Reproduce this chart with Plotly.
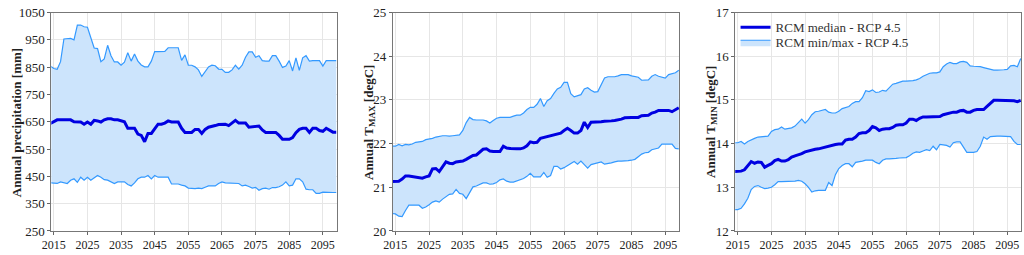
import plotly.graph_objects as go

years = list(range(2014, 2100))

precip_max = [854, 845, 842, 870, 953, 955, 955, 950, 1004, 1004, 998, 996, 960, 920, 918, 870, 880, 930, 892, 869,
              869, 857, 868, 903, 872, 898, 872, 858, 851, 851, 872, 907, 907, 907, 908, 921, 921, 921, 921, 875,
              895, 857, 857, 851, 840, 816, 834, 851, 857, 855, 843, 842, 831, 831, 840, 857, 843, 857, 886, 906,
              906, 886, 892, 874, 872, 872, 892, 892, 872, 849, 854, 874, 836, 884, 838, 884, 892, 872, 874, 874,
              874, 854, 874, 874, 874, 874]
precip_med = [644, 650, 657, 657, 657, 657, 657, 650, 649, 649, 641, 649, 641, 655, 653, 649, 657, 661, 661, 657,
              657, 653, 650, 626, 626, 626, 605, 600, 577, 607, 607, 626, 641, 641, 645, 653, 649, 649, 649, 626,
              611, 611, 611, 622, 622, 607, 622, 630, 632, 636, 640, 641, 641, 636, 645, 655, 645, 645, 645, 630,
              632, 634, 634, 620, 611, 611, 611, 611, 600, 586, 586, 586, 592, 610, 622, 626, 626, 611, 626, 626,
              618, 615, 626, 620, 612, 612]
precip_min = [426, 424, 424, 430, 428, 424, 436, 441, 428, 447, 436, 447, 436, 445, 453, 447, 438, 436, 430, 424,
              430, 430, 430, 420, 415, 426, 441, 447, 447, 453, 441, 453, 447, 447, 447, 447, 422, 422, 422, 418,
              415, 407, 405, 405, 407, 405, 410, 415, 415, 415, 424, 430, 426, 426, 424, 424, 424, 415, 418, 413,
              407, 410, 399, 405, 407, 403, 409, 409, 412, 418, 430, 415, 418, 441, 441, 430, 403, 401, 401, 388,
              388, 392, 391, 391, 391, 391]

tmax_max = [21.94, 21.94, 21.98, 21.95, 21.98, 21.97, 21.99, 22.03, 22.04, 22.05, 22.09, 22.10, 22.12, 22.15, 22.17,
            22.18, 22.18, 22.17, 22.18, 22.19, 22.20, 22.30, 22.48, 22.60, 22.55, 22.54, 22.54, 22.54, 22.52, 22.47,
            22.53, 22.58, 22.60, 22.60, 22.60, 22.60, 22.63, 22.65, 22.65, 22.70, 22.78, 22.83, 22.83, 22.90, 23.03,
            22.85, 22.98, 23.03, 23.15, 23.25, 23.29, 23.40, 23.40, 23.14, 23.07, 23.10, 23.12, 23.25, 23.28, 23.22,
            23.18, 23.19, 23.36, 23.50, 23.53, 23.53, 23.53, 23.55, 23.58, 23.58, 23.58, 23.55, 23.53, 23.52, 23.45,
            23.45, 23.46, 23.54, 23.58, 23.54, 23.52, 23.50, 23.58, 23.60, 23.62, 23.68]
tmax_med = [21.13, 21.13, 21.14, 21.19, 21.26, 21.26, 21.25, 21.24, 21.23, 21.21, 21.24, 21.26, 21.42, 21.43, 21.36,
            21.48, 21.58, 21.55, 21.54, 21.58, 21.59, 21.60, 21.64, 21.68, 21.73, 21.74, 21.80, 21.87, 21.88, 21.83,
            21.82, 21.82, 21.82, 21.94, 21.90, 21.89, 21.88, 21.88, 21.88, 21.90, 21.95, 22.04, 22.02, 22.03, 22.12,
            22.14, 22.17, 22.19, 22.20, 22.23, 22.24, 22.30, 22.35, 22.30, 22.24, 22.24, 22.30, 22.49, 22.37, 22.49,
            22.49, 22.49, 22.50, 22.51, 22.51, 22.52, 22.53, 22.54, 22.56, 22.59, 22.60, 22.60, 22.60, 22.60, 22.64,
            22.65, 22.65, 22.70, 22.72, 22.76, 22.76, 22.76, 22.76, 22.73, 22.77, 22.82]
tmax_min = [20.40, 20.39, 20.34, 20.33, 20.47, 20.59, 20.59, 20.59, 20.59, 20.52, 20.55, 20.60, 20.66, 20.69, 20.66,
            20.73, 20.78, 20.84, 20.85, 20.95, 20.86, 20.84, 20.74, 20.88, 21.01, 21.03, 21.06, 21.10, 21.10, 21.07,
            21.08, 21.11, 21.17, 21.19, 21.14, 21.12, 21.12, 21.15, 21.17, 21.20, 21.25, 21.32, 21.24, 21.24, 21.24,
            21.34, 21.23, 21.27, 21.48, 21.48, 21.42, 21.45, 21.50, 21.56, 21.59, 21.53, 21.60, 21.52, 21.44, 21.52,
            21.54, 21.55, 21.58, 21.53, 21.54, 21.56, 21.58, 21.60, 21.60, 21.60, 21.61, 21.62, 21.64, 21.70, 21.76,
            21.79, 21.80, 21.86, 21.88, 21.90, 21.99, 21.99, 21.99, 21.99, 21.89, 21.88]

tmin_max = [14.02, 14.02, 14.05, 13.99, 14.05, 14.09, 14.12, 14.15, 14.16, 14.16, 14.17, 14.28, 14.32, 14.33, 14.38,
            14.33, 14.34, 14.36, 14.40, 14.48, 14.56, 14.47, 14.55, 14.66, 14.73, 14.74, 14.76, 14.78, 14.72, 14.70,
            14.70, 14.74, 14.80, 14.82, 14.85, 14.92, 14.96, 14.96, 15.05, 15.21, 15.19, 15.23, 15.17, 15.18, 15.22,
            15.20, 15.27, 15.36, 15.38, 15.40, 15.43, 15.43, 15.43, 15.44, 15.46, 15.49, 15.54, 15.58, 15.61, 15.62,
            15.62, 15.64, 15.76, 15.82, 15.86, 15.83, 15.83, 15.87, 15.88, 15.86, 15.78, 15.77, 15.77, 15.76, 15.74,
            15.72, 15.69, 15.68, 15.68, 15.68, 15.69, 15.70, 15.78, 15.79, 15.76, 15.95]
tmin_med = [13.36, 13.36, 13.37, 13.40, 13.50, 13.59, 13.55, 13.58, 13.57, 13.46, 13.50, 13.54, 13.61, 13.64, 13.60,
            13.60, 13.63, 13.69, 13.72, 13.74, 13.77, 13.81, 13.83, 13.86, 13.87, 13.88, 13.90, 13.93, 13.95, 13.97,
            13.98, 13.99, 13.99, 14.08, 14.10, 14.10, 14.15, 14.23, 14.25, 14.25, 14.30, 14.39, 14.36, 14.30, 14.33,
            14.34, 14.34, 14.37, 14.42, 14.43, 14.43, 14.47, 14.56, 14.56, 14.53, 14.58, 14.61, 14.61, 14.61, 14.61,
            14.61, 14.62, 14.66, 14.68, 14.70, 14.72, 14.72, 14.75, 14.76, 14.72, 14.72, 14.76, 14.78, 14.78, 14.78,
            14.85, 14.92, 14.99, 14.99, 14.99, 14.99, 14.99, 14.98, 14.98, 14.96, 14.99]
tmin_min = [12.49, 12.49, 12.52, 12.62, 12.75, 12.95, 13.02, 13.04, 13.00, 12.97, 12.98, 13.00, 13.06, 13.13, 13.13,
            13.13, 13.13, 13.13, 13.14, 13.16, 13.14, 13.08, 13.00, 12.89, 12.92, 12.93, 12.93, 12.93, 13.11, 13.04,
            13.29, 13.43, 13.50, 13.54, 13.54, 13.47, 13.57, 13.58, 13.60, 13.62, 13.62, 13.62, 13.57, 13.54, 13.62,
            13.65, 13.65, 13.65, 13.66, 13.67, 13.67, 13.68, 13.72, 13.78, 13.81, 13.80, 13.83, 13.86, 13.84, 13.94,
            13.86, 13.98, 13.97, 13.96, 13.92, 14.02, 14.04, 14.04, 13.92, 13.80, 13.80, 13.80, 13.82, 13.94, 14.15,
            14.10, 14.16, 14.17, 14.17, 14.17, 14.17, 14.16, 14.16, 14.05, 13.98, 13.98]

x_ticks = [2015, 2025, 2035, 2045, 2055, 2065, 2075, 2085, 2095]
y_titles = ["Annual precipitation [mm]", "Annual T<sub>MAX</sub> [degC]", "Annual T<sub>MIN</sub> [degC]"]
y_ranges = [[250, 1050], [20, 25], [12, 17]]
y_ticks = [[250, 350, 450, 550, 650, 750, 850, 950, 1050], [20, 21, 22, 23, 24, 25], [12, 13, 14, 15, 16, 17]]

panels = [(precip_min, precip_max, precip_med), (tmax_min, tmax_max, tmax_med), (tmin_min, tmin_max, tmin_med)]

MED = "rgb(0,0,225)"
EDGE = "rgb(51,153,255)"
FILL = "rgba(204,228,252,1)"
FONT = "Liberation Serif"

fig = go.Figure()
for i, (lo, hi, med) in enumerate(panels):
    ax = "" if i == 0 else str(i + 1)
    show = (i == 2)
    fig.add_trace(go.Scatter(x=years, y=lo, mode="lines", line=dict(color=EDGE, width=1.2),
                             xaxis="x" + ax, yaxis="y" + ax, showlegend=False, hoverinfo="skip"))
    fig.add_trace(go.Scatter(x=years, y=hi, mode="lines", line=dict(color=EDGE, width=1.2),
                             fill="tonexty", fillcolor=FILL, xaxis="x" + ax, yaxis="y" + ax,
                             name="RCM min/max - RCP 4.5", showlegend=show, legend="legend2"))
    fig.add_trace(go.Scatter(x=years, y=med, mode="lines", line=dict(color=MED, width=3),
                             xaxis="x" + ax, yaxis="y" + ax,
                             name="RCM median - RCP 4.5", showlegend=show, legend="legend"))

x_domains = [[0.0417, 0.3228], [0.3782, 0.6602], [0.7155, 0.9971]]
y_domain = [0.0667, 0.977]
title_x = [7, 363, 708]

leg_common = dict(xanchor="left", yanchor="middle", bgcolor="rgba(0,0,0,0)",
                  font=dict(family=FONT, size=13, color="#333"), itemwidth=30)
layout = dict(
    width=1024, height=255, autosize=False,
    margin=dict(l=0, r=0, t=0, b=0),
    paper_bgcolor="white", plot_bgcolor="white",
    font=dict(family=FONT, size=13, color="#222"),
    showlegend=True,
    legend=dict(x=733 / 1024, y=1 - 21.5 / 255, **leg_common),
    legend2=dict(x=733 / 1024, y=1 - 37.5 / 255, **leg_common),
    shapes=[dict(type="rect", xref="paper", yref="paper", layer="between",
                 x0=736 / 1024, x1=905 / 1024, y0=1 - 47 / 255, y1=1 - 8 / 255,
                 fillcolor="white", line=dict(width=0))],
)
annotations = []
for i in range(3):
    ax = "" if i == 0 else str(i + 1)
    layout["xaxis" + ax] = dict(
        domain=x_domains[i], anchor="y" + ax, range=[2014.26, 2099.1],
        tickvals=x_ticks, ticks="outside", ticklen=3, tickcolor="#666",
        showline=True, linecolor="#777", linewidth=1, mirror=True,
        showgrid=True, gridcolor="#e6e6e6", gridwidth=1, ticklabeloverflow="allow",
        tickfont=dict(family=FONT, size=12, color="#222"), zeroline=False,
    )
    layout["yaxis" + ax] = dict(
        domain=y_domain, anchor="x" + ax, range=y_ranges[i],
        tickvals=y_ticks[i], ticks="outside", ticklen=3, tickcolor="#666",
        showline=True, linecolor="#777", linewidth=1, mirror=True,
        showgrid=True, gridcolor="#e6e6e6", gridwidth=1, ticklabeloverflow="allow",
        tickfont=dict(family=FONT, size=13, color="#222"), zeroline=False,
    )
    annotations.append(dict(
        text="<b>" + y_titles[i] + "</b>", textangle=-90,
        x=title_x[i] / 1024, y=0.52, xref="paper", yref="paper",
        xanchor="center", yanchor="middle", showarrow=False,
        font=dict(family=FONT, size=13, color="#222"),
    ))
layout["annotations"] = annotations
fig.update_layout(**layout)

fig.write_html("out.html", config={"displayModeBar": False, "responsive": False},
               post_script="document.body.style.margin='0px';")
